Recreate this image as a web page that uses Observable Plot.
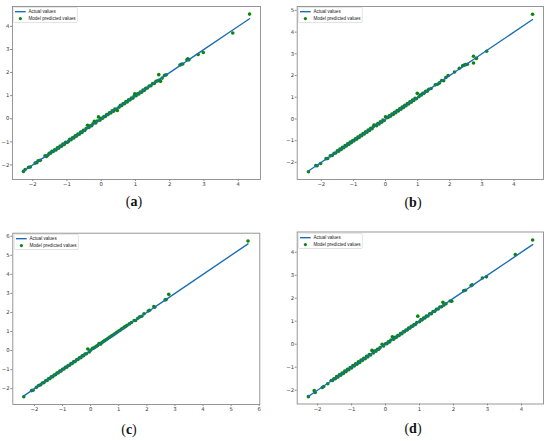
<!DOCTYPE html>
<html>
<head>
<meta charset="utf-8">
<script src="https://cdn.jsdelivr.net/npm/d3@7"></script>
<script src="https://cdn.jsdelivr.net/npm/@observablehq/plot@0.6"></script>
<style>
  html, body { margin: 0; padding: 0; background: #fff; }
  #root { position: relative; width: 550px; height: 441px; background: #fff; overflow: hidden; }
  .panel { position: absolute; }
  .panel svg { overflow: visible; }
  .cap { position: absolute; transform: translate(-50%, -50%); font-family: "Liberation Serif", "DejaVu Serif", serif; font-size: 14px; color: #111; white-space: nowrap; }
  .legend { position: absolute; }
</style>
</head>
<body>
<div id="root"></div>
<script>
// ---------- data ----------
const seriesNames = ["Actual values", "Model predicted values"];
const panelLetters = ["a", "b", "c", "d"];

const ticksA_x = [-2, -1, 0, 1, 2, 3, 4];
const ticksA_y = [-2, -1, 0, 1, 2, 3, 4];
const ticksB_x = [-2, -1, 0, 1, 2, 3, 4];
const ticksB_y = [-2, -1, 0, 1, 2, 3, 4, 5];
const ticksC_x = [-2, -1, 0, 1, 2, 3, 4, 5, 6];
const ticksC_y = [-2, -1, 0, 1, 2, 3, 4, 5, 6];
const ticksD_x = [-2, -1, 0, 1, 2, 3, 4];
const ticksD_y = [-2, -1, 0, 1, 2, 3, 4];

const actualA = [
  -2.27,-2.22,-2.12,-2.07,-1.93,-1.88,-1.84,-1.78,-1.64,-1.60,
  -1.56,-1.52,-1.48,-1.44,-1.40,-1.36,-1.32,-1.28,-1.24,-1.20,
  -1.16,-1.12,-1.08,-1.04,-1.00,-0.96,-0.92,-0.88,-0.84,-0.80,
  -0.76,-0.72,-0.68,-0.64,-0.60,-0.56,-0.52,-0.48,-0.44,-0.40,
  -0.36,-0.32,-0.28,-0.24,-0.20,-0.16,-0.12,-0.08,-0.04,0.00,
  0.04,0.08,0.12,0.16,0.20,0.24,0.28,0.32,0.36,0.40,
  0.44,0.47,0.52,0.56,0.60,0.64,0.68,0.72,0.76,0.80,
  0.84,0.88,0.92,0.96,0.98,1.02,1.06,1.10,1.14,1.18,
  1.22,1.26,1.30,1.35,1.40,1.45,1.50,1.55,1.60,1.65,
  1.68,1.70,1.73,1.78,1.85,1.90,2.30,2.34,2.38,2.50,
  2.53,2.56,2.83,2.98,3.84,4.33
];
const predA = [
  -2.28,-2.20,-2.10,-2.09,-1.92,-1.90,-1.82,-1.80,-1.60,-1.63,
  -1.58,-1.50,-1.49,-1.41,-1.42,-1.34,-1.35,-1.26,-1.27,-1.18,
  -1.19,-1.10,-1.11,-1.02,-1.03,-0.99,-0.89,-0.91,-0.82,-0.83,
  -0.74,-0.75,-0.66,-0.67,-0.58,-0.59,-0.50,-0.51,-0.42,-0.28,
  -0.38,-0.30,-0.30,-0.22,-0.11,-0.18,-0.10,0.08,-0.06,0.02,
  0.02,0.10,0.10,0.18,0.18,0.26,0.25,0.34,0.33,0.42,
  0.41,0.36,0.50,0.58,0.57,0.66,0.65,0.74,0.73,0.82,
  0.81,0.90,0.89,0.98,1.08,1.00,1.08,1.07,1.16,1.15,
  1.24,1.23,1.32,1.33,1.42,1.43,1.52,1.53,1.62,1.64,
  1.91,1.68,1.62,1.76,1.88,1.90,2.33,2.36,2.37,2.55,
  2.60,2.55,2.78,2.87,3.71,4.53
];

const actualB = [
  -2.40,-2.17,-2.13,-2.02,-1.85,-1.80,-1.72,-1.66,-1.60,-1.55,
  -1.50,-1.46,-1.42,-1.38,-1.34,-1.30,-1.26,-1.22,-1.18,-1.14,
  -1.10,-1.06,-1.02,-0.98,-0.94,-0.90,-0.86,-0.82,-0.78,-0.74,
  -0.70,-0.66,-0.62,-0.58,-0.54,-0.50,-0.46,-0.42,-0.38,-0.36,
  -0.32,-0.28,-0.24,-0.20,-0.16,-0.12,-0.08,-0.04,0.00,0.04,
  0.08,0.12,0.16,0.20,0.24,0.28,0.32,0.36,0.40,0.44,
  0.48,0.52,0.56,0.60,0.64,0.68,0.72,0.76,0.80,0.84,
  0.88,0.92,0.96,0.99,1.04,1.08,1.12,1.16,1.20,1.25,
  1.30,1.35,1.42,1.55,1.62,1.68,1.75,1.81,1.88,1.95,
  2.15,2.30,2.40,2.45,2.50,2.55,2.74,2.74,2.83,3.15,
  4.58
];
const predB = [
  -2.43,-2.15,-2.16,-2.05,-1.83,-1.82,-1.70,-1.68,-1.58,-1.57,
  -1.47,-1.49,-1.39,-1.41,-1.31,-1.33,-1.23,-1.25,-1.15,-1.17,
  -1.07,-1.09,-0.99,-1.01,-0.91,-0.93,-0.83,-0.85,-0.75,-0.77,
  -0.67,-0.69,-0.59,-0.61,-0.51,-0.53,-0.43,-0.45,-0.36,-0.28,
  -0.29,-0.31,-0.21,-0.23,-0.13,-0.15,-0.05,-0.07,0.10,0.06,
  0.07,0.15,0.13,0.23,0.21,0.31,0.29,0.39,0.37,0.47,
  0.45,0.55,0.53,0.63,0.61,0.71,0.69,0.79,0.77,0.87,
  0.85,0.95,0.93,1.18,1.02,1.10,1.10,1.18,1.18,1.27,
  1.28,1.37,1.40,1.57,1.60,1.66,1.77,1.76,1.91,2.00,
  2.16,2.33,2.45,2.48,2.50,2.52,2.89,2.58,2.79,3.12,
  4.82
];

const actualC = [
  -2.38,-2.10,-2.05,-1.93,-1.85,-1.78,-1.72,-1.66,-1.60,-1.55,
  -1.50,-1.45,-1.40,-1.35,-1.30,-1.25,-1.20,-1.15,-1.10,-1.05,
  -1.00,-0.95,-0.90,-0.85,-0.80,-0.75,-0.70,-0.65,-0.60,-0.55,
  -0.50,-0.45,-0.40,-0.35,-0.30,-0.25,-0.20,-0.15,-0.10,-0.05,
  0.00,0.07,0.10,0.15,0.20,0.25,0.30,0.36,0.40,0.45,
  0.50,0.55,0.60,0.65,0.70,0.75,0.80,0.85,0.90,0.95,
  1.00,1.05,1.10,1.15,1.20,1.25,1.30,1.38,1.45,1.55,
  1.60,1.68,1.75,1.82,1.90,2.05,2.10,2.25,2.28,2.65,
  2.69,2.78,5.60
];
const predC = [
  -2.42,-2.10,-2.08,-1.93,-1.83,-1.80,-1.70,-1.68,-1.58,-1.57,
  -1.48,-1.47,-1.38,-1.37,-1.28,-1.27,-1.18,-1.17,-1.08,-1.07,
  -0.98,-0.97,-0.88,-0.87,-0.78,-0.77,-0.68,-0.67,-0.58,-0.57,
  -0.48,-0.47,-0.38,-0.37,-0.28,-0.27,-0.18,-0.17,0.08,-0.07,
  0.02,0.12,0.12,0.17,0.22,0.27,0.37,0.34,0.42,0.47,
  0.52,0.57,0.62,0.67,0.72,0.77,0.82,0.87,0.92,0.97,
  1.03,1.07,1.13,1.17,1.23,1.27,1.33,1.40,1.47,1.58,
  1.58,1.70,1.77,1.80,1.93,2.08,2.12,2.31,2.27,2.66,
  2.68,2.95,5.75
];

const actualD = [
  -2.27,-2.10,-2.07,-1.86,-1.82,-1.70,-1.60,-1.56,-1.52,-1.48,
  -1.44,-1.40,-1.36,-1.32,-1.28,-1.24,-1.20,-1.16,-1.12,-1.08,
  -1.04,-1.00,-0.96,-0.92,-0.88,-0.84,-0.80,-0.76,-0.72,-0.68,
  -0.64,-0.60,-0.56,-0.52,-0.48,-0.44,-0.40,-0.36,-0.32,-0.28,
  -0.24,-0.20,-0.16,-0.10,-0.06,0.00,0.04,0.08,0.12,0.16,
  0.20,0.24,0.28,0.32,0.36,0.40,0.44,0.48,0.52,0.56,
  0.60,0.64,0.68,0.72,0.76,0.80,0.84,0.88,0.92,0.95,
  1.00,1.04,1.08,1.12,1.16,1.20,1.25,1.30,1.35,1.40,
  1.45,1.50,1.55,1.60,1.65,1.69,1.72,1.78,1.90,1.95,
  2.30,2.35,2.52,2.55,2.85,2.97,3.82,4.33
];
const predD = [
  -2.28,-2.02,-2.10,-1.88,-1.84,-1.72,-1.58,-1.58,-1.50,-1.50,
  -1.41,-1.43,-1.33,-1.35,-1.25,-1.27,-1.17,-1.19,-1.09,-1.11,
  -1.01,-1.03,-0.93,-0.95,-0.85,-0.87,-0.77,-0.79,-0.69,-0.71,
  -0.61,-0.63,-0.53,-0.55,-0.45,-0.47,-0.27,-0.38,-0.30,-0.30,
  -0.22,-0.22,-0.14,0.00,-0.08,0.02,0.02,0.10,0.10,0.18,
  0.32,0.22,0.30,0.30,0.38,0.38,0.46,0.46,0.54,0.54,
  0.62,0.62,0.70,0.70,0.78,0.78,0.86,0.86,0.94,1.22,
  0.98,1.06,1.06,1.14,1.14,1.22,1.23,1.32,1.33,1.42,
  1.43,1.52,1.53,1.62,1.63,1.82,1.70,1.76,1.88,1.87,
  2.32,2.35,2.55,2.58,2.88,2.93,3.90,4.53
];

// ---------- layout / style ----------
const lineColor = "#1a6db3";
const dotColor = "#0b860b";
const frameColor = "#8c8c8c";

const panels = [
  {letter: panelLetters[0], actual: actualA, pred: predA, xt: ticksA_x, yt: ticksA_y,
   left: 0, top: 0, width: 275, height: 220, mt: 6, mr: 15, mb: 41, ml: 12,
   xd: [-2.59, 4.65], yd: [-2.63, 4.86], cap: [134, 202]},
  {letter: panelLetters[1], actual: actualB, pred: predB, xt: ticksB_x, yt: ticksB_y,
   left: 275, top: 0, width: 275, height: 220, mt: 6, mr: 7, mb: 41, ml: 21.7,
   xd: [-2.75, 4.92], yd: [-2.79, 5.18], cap: [413, 203]},
  {letter: panelLetters[2], actual: actualC, pred: predC, xt: ticksC_x, yt: ticksC_y,
   left: 0, top: 220, width: 275, height: 221, mt: 12.7, mr: 15.7, mb: 37, ml: 12.3,
   xd: [-2.77, 6.02], yd: [-2.83, 6.16], cap: [129, 430]},
  {letter: panelLetters[3], actual: actualD, pred: predD, xt: ticksD_x, yt: ticksD_y,
   left: 275, top: 220, width: 275, height: 221, mt: 11.5, mr: 7, mb: 37.5, ml: 21.7,
   xd: [-2.6, 4.65], yd: [-2.6, 4.88], cap: [413, 429]}
];

const root = document.getElementById("root");
const fmt = d => d < 0 ? "\u2212" + Math.abs(d) : String(d);

for (const p of panels) {
  const pts = p.actual.map((a, i) => ({actual: a, pred: p.pred[i]}));
  const lineData = p.actual.slice().sort((a, b) => a - b);

  const chart = Plot.plot({
    width: p.width,
    height: p.height,
    marginTop: p.mt,
    marginRight: p.mr,
    marginBottom: p.mb,
    marginLeft: p.ml,
    style: {fontFamily: "'DejaVu Sans', sans-serif", fontSize: "5.3px", background: "transparent", color: "#333"},
    x: {domain: p.xd, label: null},
    y: {domain: p.yd, label: null},
    marks: [
      Plot.dot(pts, {x: "actual", y: "pred", r: 1.8, fill: dotColor, stroke: "none"}),
      Plot.line(lineData, {x: d => d, y: d => d, stroke: lineColor, strokeWidth: 1.35}),
      Plot.frame({stroke: frameColor, strokeWidth: 0.9}),
      Plot.axisX({ticks: p.xt, tickSize: 2, tickPadding: 1.2, stroke: frameColor, color: "#333", label: null, tickFormat: fmt}),
      Plot.axisY({ticks: p.yt, tickSize: 2, tickPadding: 1.2, stroke: frameColor, color: "#333", label: null, tickFormat: fmt})
    ]
  });

  const wrap = document.createElement("div");
  wrap.className = "panel";
  wrap.style.left = p.left + "px";
  wrap.style.top = p.top + "px";
  wrap.style.width = p.width + "px";
  wrap.style.height = p.height + "px";
  wrap.appendChild(chart);
  root.appendChild(wrap);

  // legend (upper-left, inside frame)
  const ns = "http://www.w3.org/2000/svg";
  const lg = document.createElementNS(ns, "svg");
  lg.setAttribute("class", "legend");
  lg.setAttribute("width", 65);
  lg.setAttribute("height", 16);
  lg.style.position = "absolute";
  lg.style.left = (p.left + p.ml + 1.3) + "px";
  lg.style.top = (p.top + p.mt + 1.3) + "px";
  lg.innerHTML =
    `<rect x="0.3" y="0.3" width="64" height="15.2" rx="1.3" fill="#fff" fill-opacity="0.85" stroke="#d0d0d0" stroke-width="0.6"/>` +
    `<line x1="2" x2="12.7" y1="4.7" y2="4.7" stroke="${lineColor}" stroke-width="1.35"/>` +
    `<text x="15.4" y="4.7" dy="0.35em" font-family="'Liberation Sans', Arial, sans-serif" font-size="4.6" fill="#222">${seriesNames[0]}</text>` +
    `<circle cx="7.4" cy="11.6" r="1.6" fill="${dotColor}"/>` +
    `<text x="15.4" y="11.6" dy="0.35em" font-family="'Liberation Sans', Arial, sans-serif" font-size="4.6" fill="#222">${seriesNames[1]}</text>`;
  root.appendChild(lg);

  // caption (a), (b) ...
  const cap = document.createElement("div");
  cap.className = "cap";
  cap.style.left = p.cap[0] + "px";
  cap.style.top = p.cap[1] + "px";
  cap.innerHTML = `(<b>${p.letter}</b>)`;
  root.appendChild(cap);
}
</script>
</body>
</html>
